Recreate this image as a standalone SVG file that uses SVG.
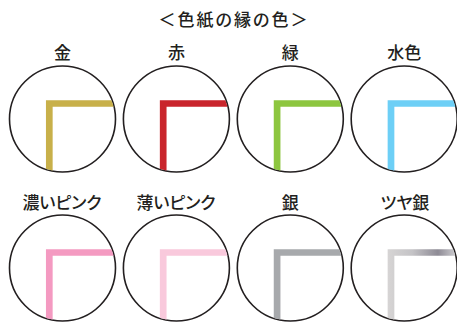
<svg xmlns="http://www.w3.org/2000/svg" width="457" height="323" viewBox="0 0 457 323">
  <style>
    text { font-family: "Noto Sans CJK JP", "Noto Sans", sans-serif; fill: #231f20; text-anchor: middle; font-feature-settings: "palt"; font-weight: 500; }
    .title { font-size: 17px; letter-spacing: 2px; }
    .lbl { font-size: 17px; }
    .ring { fill: #ffffff; stroke: #231f20; stroke-width: 1.6; }
    .edge { fill: none; stroke-width: 6.7; stroke-linejoin: miter; stroke-linecap: butt; clip-path: url(#clip); }
  </style>
  <defs>
    <clipPath id="clip"><circle cx="0" cy="0" r="52.5"/></clipPath>
    <linearGradient id="gloss" gradientUnits="userSpaceOnUse" x1="-16" y1="0" x2="53" y2="0">
      <stop offset="0" stop-color="#d6d4d4"/>
      <stop offset="0.35" stop-color="#c4c3c6"/>
      <stop offset="0.72" stop-color="#8e8b95"/>
      <stop offset="1" stop-color="#d2d1d4"/>
    </linearGradient>
  </defs>
  <text class="title" x="234" y="25.5">＜色紙の縁の色＞</text>

  <g id="kin" transform="translate(62.5,119)">
    <circle class="ring" r="53"/>
    <path class="edge" stroke="#c8b04a" d="M-13.2,60 V-15.5 H60"/>
  </g>
  <g id="aka" transform="translate(176.4,119)">
    <circle class="ring" r="53"/>
    <path class="edge" stroke="#c9252c" d="M-13.2,60 V-15.5 H60"/>
  </g>
  <g id="midori" transform="translate(290.3,119)">
    <circle class="ring" r="53"/>
    <path class="edge" stroke="#8dc63f" d="M-13.2,60 V-15.5 H60"/>
  </g>
  <g id="mizuiro" transform="translate(404.2,119)">
    <circle class="ring" r="53"/>
    <path class="edge" stroke="#6dcff6" d="M-13.2,60 V-15.5 H60"/>
  </g>

  <g id="koipink" transform="translate(62.5,268)">
    <circle class="ring" r="53"/>
    <path class="edge" stroke="#f49ac1" d="M-13.2,60 V-15.5 H60"/>
  </g>
  <g id="usupink" transform="translate(176.4,268)">
    <circle class="ring" r="53"/>
    <path class="edge" stroke="#f9c9dc" d="M-13.2,60 V-15.5 H60"/>
  </g>
  <g id="gin" transform="translate(290.3,268)">
    <circle class="ring" r="53"/>
    <path class="edge" stroke="#a7a9ac" d="M-13.2,60 V-15.5 H60"/>
  </g>
  <g id="tsuyagin" transform="translate(404.2,268)">
    <circle class="ring" r="53"/>
    <path class="edge" stroke="url(#gloss)" d="M-13.2,60 V-15.5 H60"/>
  </g>

  <g id="labels">
    <text class="lbl" x="62.5" y="59">金</text>
    <text class="lbl" x="176.4" y="59">赤</text>
    <text class="lbl" x="290.3" y="59">緑</text>
    <text class="lbl" x="404.2" y="59">水色</text>
    <text class="lbl" x="62" y="209">濃いピンク</text>
    <text class="lbl" x="176" y="209">薄いピンク</text>
    <text class="lbl" x="290.3" y="209">銀</text>
    <text class="lbl" x="405" y="209">ツヤ銀</text>
  </g>
</svg>
